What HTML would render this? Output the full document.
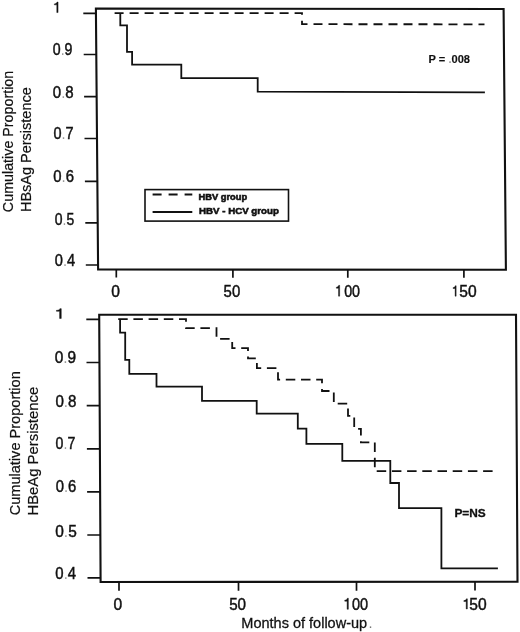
<!DOCTYPE html>
<html><head><meta charset="utf-8">
<style>
html,body{margin:0;padding:0;background:#fff;}
body{width:520px;height:632px;overflow:hidden;}
svg{display:block;}
text{font-family:"Liberation Sans",sans-serif;fill:#111;stroke:#111;stroke-width:0.45px;}
.dot{fill:#999;stroke:none;}
.dot2{fill:#777;stroke:none;}
svg{will-change:transform;}
</style></head>
<body>
<svg width="520" height="632" viewBox="0 0 520 632">
<g fill="none" stroke="#111" stroke-linecap="butt" stroke-linejoin="miter">
<path d="M95.9,8.5 L503.6,9 L505.9,269.8 L98.1,269.5 Z" stroke-width="2.1"/>
<path d="M83.3,13.3H96 M83.7,54.5H96.3 M84.1,96.6H96.7 M84.5,138.5H97 M84.9,181.3H97.4 M85.3,222.8H97.8 M85.8,265H98.1" stroke-width="1.7"/>
<path d="M116.3,269.5V277.6 M232.9,269.6V277.7 M347.8,269.7V277.7 M463.9,269.8V277.7" stroke-width="1.7"/>
<path d="M114.6,13.1H302V24.2L484.5,24.3" stroke-width="1.8" stroke-dasharray="9 6"/>
<path d="M120.3,13.1V25.4H127V51.8H132.1V64.7H181.3V78.1H257.7V91.6L484.9,92.4" stroke-width="1.8"/>
<rect x="145" y="189.6" width="143.5" height="31.5" stroke-width="1.6"/>
<path d="M152.6,194.6H192.3" stroke-width="2" stroke-dasharray="9 7"/>
<path d="M152.6,212H192.3" stroke-width="2"/>
<path d="M99.2,314.7 L516,314.8 L517.5,581.7 L100.6,582 Z" stroke-width="2.1"/>
<path d="M86.3,319.4H99.2 M86.5,362.5H99.4 M86.7,405.7H99.7 M86.9,448.8H99.9 M87.1,491.9H100.1 M87.3,535H100.3 M87.5,577.9H100.6" stroke-width="1.7"/>
<path d="M119,582V590.8 M238.5,582V590.8 M356.5,581.9V590.7 M475,581.8V590.6" stroke-width="1.7"/>
<path d="M118.2,319.2H186V328.2H216.5V338.9H232.2V348.2H248V358.3H256.9V368.1H278V379.6H322V391H333.8V403.7H348V415.8H354.2V428.9H360.9V442.4H374.8V471.1H494" stroke-width="1.8" stroke-dasharray="9.5 5.7"/>
<path d="M120.1,319.2V332.6H125.2V359.8H129.3V373.9H156.5V386.7H202V400.8H256.7V413.6H297.8V428.6H306.4V443.8H342.3V460.8H390.3V483H399V508.1H441.4V568.3H497.9" stroke-width="1.8"/>
</g>
<g fill="#111" stroke="#111" stroke-width="0.03"><path transform="translate(53.37,12.55) scale(13.962,-14.810)" d="M0.335,0 L0.335,0.709 L0.262,0.709 C0.24,0.63 0.175,0.59 0.07,0.585 L0.07,0.52 L0.245,0.52 L0.245,0 Z"/><path transform="translate(55.18,318.45) scale(18.113,-13.822)" d="M0.335,0 L0.335,0.709 L0.262,0.709 C0.24,0.63 0.175,0.59 0.07,0.585 L0.07,0.52 L0.245,0.52 L0.245,0 Z"/><path transform="translate(335.48,296.15) scale(12.453,-15.233)" d="M0.335,0 L0.335,0.709 L0.262,0.709 C0.24,0.63 0.175,0.59 0.07,0.585 L0.07,0.52 L0.245,0.52 L0.245,0 Z"/><path transform="translate(452.23,296.15) scale(11.698,-14.669)" d="M0.335,0 L0.335,0.709 L0.262,0.709 C0.24,0.63 0.175,0.59 0.07,0.585 L0.07,0.52 L0.245,0.52 L0.245,0 Z"/><path transform="translate(343.80,609.25) scale(13.585,-15.515)" d="M0.335,0 L0.335,0.709 L0.262,0.709 C0.24,0.63 0.175,0.59 0.07,0.585 L0.07,0.52 L0.245,0.52 L0.245,0 Z"/><path transform="translate(462.93,608.95) scale(13.208,-14.245)" d="M0.335,0 L0.335,0.709 L0.262,0.709 C0.24,0.63 0.175,0.59 0.07,0.585 L0.07,0.52 L0.245,0.52 L0.245,0 Z"/></g>
<g>
<text x="52.78" y="55.26" font-size="15.60" textLength="19.73" lengthAdjust="spacingAndGlyphs">0<tspan class="dot">.</tspan>9</text>
<text x="52.77" y="97.52" font-size="15.60" textLength="20.89" lengthAdjust="spacingAndGlyphs">0<tspan class="dot">.</tspan>8</text>
<text x="53.50" y="139.27" font-size="15.60" textLength="20.16" lengthAdjust="spacingAndGlyphs">0<tspan class="dot">.</tspan>7</text>
<text x="53.32" y="181.64" font-size="15.60" textLength="20.71" lengthAdjust="spacingAndGlyphs">0<tspan class="dot">.</tspan>6</text>
<text x="54.80" y="224.50" font-size="15.60" textLength="19.42" lengthAdjust="spacingAndGlyphs">0<tspan class="dot">.</tspan>5</text>
<text x="54.80" y="265.60" font-size="15.60" textLength="20.34" lengthAdjust="spacingAndGlyphs">0<tspan class="dot">.</tspan>4</text>
<text x="111.30" y="296.50" font-size="15.60">0</text>
<text x="223.58" y="296.52" font-size="15.60" textLength="16.63" lengthAdjust="spacingAndGlyphs">50</text>
<text x="344.16" y="296.60" font-size="15.60" textLength="15.86" lengthAdjust="spacingAndGlyphs">00</text>
<text x="459.30" y="296.57" font-size="15.60">50</text>
<text x="54.70" y="362.97" font-size="15.60" textLength="21.48" lengthAdjust="spacingAndGlyphs">0<tspan class="dot">.</tspan>9</text>
<text x="55.46" y="406.84" font-size="15.60" textLength="20.99" lengthAdjust="spacingAndGlyphs">0<tspan class="dot">.</tspan>8</text>
<text x="55.60" y="449.31" font-size="15.60" textLength="19.64" lengthAdjust="spacingAndGlyphs">0<tspan class="dot">.</tspan>7</text>
<text x="55.70" y="492.00" font-size="15.60" textLength="20.59" lengthAdjust="spacingAndGlyphs">0<tspan class="dot">.</tspan>6</text>
<text x="55.27" y="536.74" font-size="15.60" textLength="21.50" lengthAdjust="spacingAndGlyphs">0<tspan class="dot">.</tspan>5</text>
<text x="55.36" y="578.54" font-size="15.60" textLength="20.74" lengthAdjust="spacingAndGlyphs">0<tspan class="dot">.</tspan>4</text>
<text x="113.55" y="610.30" font-size="15.60">0</text>
<text x="229.16" y="609.84" font-size="15.60" textLength="16.92" lengthAdjust="spacingAndGlyphs">50</text>
<text x="351.88" y="609.80" font-size="15.60" textLength="16.14" lengthAdjust="spacingAndGlyphs">00</text>
<text x="469.30" y="609.96" font-size="15.60">50</text>
<text x="241.30" y="628.44" font-size="15.20" style="stroke-width:0.3px" textLength="131.34" lengthAdjust="spacingAndGlyphs">Months of follow-up<tspan class="dot2" dx="1.5">.</tspan></text>
<text transform="translate(12.94,212.14) rotate(-90)" font-size="13.80" style="stroke-width:0.2px" textLength="141.38" lengthAdjust="spacingAndGlyphs">Cumulative Proportion</text>
<text transform="translate(30.88,212.00) rotate(-90)" font-size="13.80" style="stroke-width:0.2px" textLength="124.72" lengthAdjust="spacingAndGlyphs">HBsAg Persistence</text>
<text transform="translate(19.97,515.36) rotate(-90)" font-size="13.80" style="stroke-width:0.2px" textLength="144.12" lengthAdjust="spacingAndGlyphs">Cumulative Proportion</text>
<text transform="translate(37.92,515.56) rotate(-90)" font-size="13.80" style="stroke-width:0.2px" textLength="128.74" lengthAdjust="spacingAndGlyphs">HBeAg Persistence</text>
<text x="198.48" y="200.41" font-size="9.52" font-weight="bold" style="stroke-width:0.6px" textLength="48.66" lengthAdjust="spacingAndGlyphs">HBV group</text>
<text x="199.09" y="214.45" font-size="9.95" font-weight="bold" style="stroke-width:0.6px" textLength="79.76" lengthAdjust="spacingAndGlyphs">HBV - HCV group</text>
<text x="428.55" y="62.57" font-size="11.32" font-weight="bold" style="stroke-width:0.15px" textLength="41.43" lengthAdjust="spacingAndGlyphs">P = <tspan class="dot">.</tspan>008</text>
<text x="454.42" y="516.68" font-size="11.30" font-weight="bold" style="stroke-width:0.3px" textLength="31.31" lengthAdjust="spacingAndGlyphs">P=NS</text>
</g>
</svg>
</body></html>
